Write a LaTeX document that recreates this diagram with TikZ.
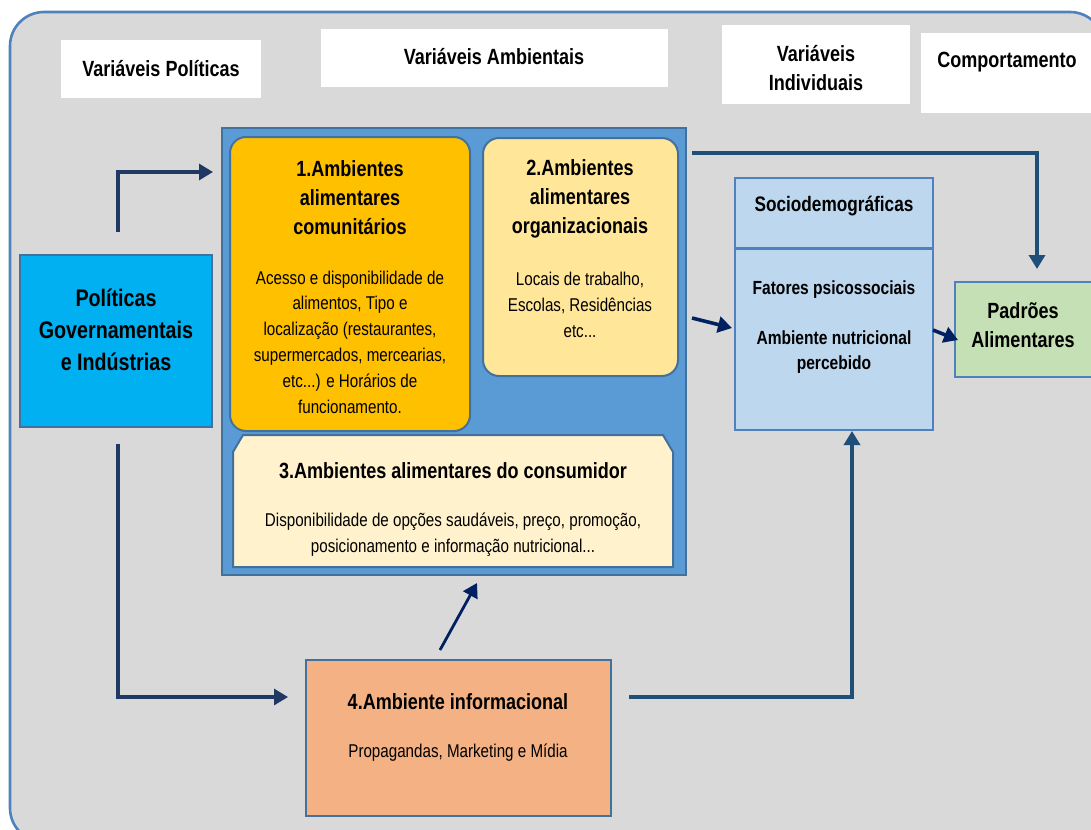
\documentclass[tikz,border=0pt]{standalone}
\usepackage{fontspec}
\setmainfont[FakeStretch=0.82]{Liberation Sans}
\usetikzlibrary{arrows.meta,fit}

\definecolor{bgray}{HTML}{D9D9D9}
\definecolor{frameblue}{HTML}{4F81BD}
\definecolor{edgeblue}{HTML}{41719C}
\definecolor{polblue}{HTML}{00B0F0}
\definecolor{envblue}{HTML}{5B9BD5}
\definecolor{comorange}{HTML}{FFC000}
\definecolor{orgyellow}{HTML}{FFE699}
\definecolor{conscream}{HTML}{FFF2CC}
\definecolor{indblue}{HTML}{BDD7EE}
\definecolor{patgreen}{HTML}{C5E0B4}
\definecolor{infsalmon}{HTML}{F4B183}
\definecolor{navyA}{HTML}{1F3864}
\definecolor{navyB}{HTML}{002060}
\definecolor{steelA}{HTML}{1F4E79}

\tikzset{
  hdrbox/.style={fill=white, inner sep=0pt, outer sep=0pt},
  panel/.style={draw=edgeblue, line width=1pt, inner sep=0pt, outer sep=0pt},
  ttl/.style={font=\fontsize{11}{14.5}\selectfont\bfseries, align=center, inner sep=0pt},
  subttl/.style={font=\fontsize{9.5}{12.9}\selectfont\bfseries, align=center, inner sep=0pt},
  bodytxt/.style={font=\fontsize{9.25}{12.9}\selectfont, align=center, inner sep=0pt},
  link/.style={line width=1.6pt, -{Triangle[length=7pt,width=8pt]}},
}

\begin{document}
\begin{tikzpicture}[x=0.5pt,y=-0.5pt]
\useasboundingbox (0,0) rectangle (1091,829);
\fill[white] (0,0) rectangle (1091,829);

% rounded grey frame, running past the right and bottom edges
\begin{scope}
  \clip (0,0) rectangle (1091,829);
  \draw[fill=bgray, draw=frameblue, line width=1.3pt, rounded corners=17pt]
    (10,12) rectangle (1104,842);
\end{scope}

% column headers
\node[hdrbox, fit={(61,40)(261,98)}] (hpol) {};
\node[ttl] (tpol) at (hpol.center) {Variáveis Políticas};
\node[hdrbox, fit={(321,29)(668,87)}] (hamb) {};
\node[ttl] (tamb) at (494,57) {Variáveis Ambientais};
\node[hdrbox, fit={(722,25)(910,104)}] (hind) {};
\node[ttl] (tind) at (816,68) {Variáveis\\Individuais};
\node[hdrbox, fit={(921,33)(1095,113)}] (hcom) {};
\node[ttl] (tcom) at (1007,62) {Comportamento};

% policies
\node[panel, fill=polblue, fit={(20,255)(212,427)}] (pol) {};
\node[font=\fontsize{12}{16}\selectfont\bfseries, align=center, inner sep=0pt] (tpolbox) at (116,330)
  {Políticas\\Governamentais\\e Indústrias};

% environmental block
\node[draw=edgeblue, line width=1.3pt, fill=envblue, inner sep=0pt, outer sep=0pt,
      fit={(222,128)(686,575)}] (env) {};

\node[panel, fill=comorange, rounded corners=8pt, fit={(230,137)(470,431)}] (com) {};
\node[ttl] (tcom1) at (350,198) {1.Ambientes\\alimentares\\comunitários};
\node[bodytxt] (bcom1) at (350,342) {Acesso e disponibilidade de\\alimentos, Tipo e\\localização (restaurantes,\\supermercados, mercearias,\\etc...) e Horários de\\funcionamento.};

\node[panel, fill=orgyellow, rounded corners=8pt, fit={(483,138)(678,376)}] (org) {};
\node[ttl] (torg) at (580,199) {2.Ambientes\\alimentares\\organizacionais};
\node[bodytxt] (borg) at (580,305) {Locais de trabalho,\\Escolas, Residências\\etc...};

\draw[panel, fill=conscream] (243,435) -- (663,435) -- (673,452) -- (673,567)
  -- (233,567) -- (233,452) -- cycle;
\node[inner sep=0pt, fit={(233,435)(673,567)}] (cons) {};
\node[ttl] (tcons) at (453,471) {3.Ambientes alimentares do consumidor};
\node[bodytxt] (bcons) at (453,535) {Disponibilidade de opções saudáveis, preço, promoção,\\posicionamento e informação nutricional...};

% informational environment
\node[panel, fill=infsalmon, fit={(306,660)(611,816)}] (inf) {};
\node[ttl] (tinf) at (458,702) {4.Ambiente informacional};
\node[bodytxt] (binf) at (458,753) {Propagandas, Marketing e Mídia};

% individual variables
\node[panel, draw=frameblue, fill=indblue, fit={(735,178)(933,248)}] (soc) {};
\node[ttl, font=\fontsize{10.5}{14}\selectfont\bfseries] (tsoc) at (834,206) {Sociodemográficas};
\node[panel, draw=frameblue, fill=indblue, fit={(735,249)(933,430)}] (psy) {};
\node[subttl] (tpsy) at (834,290) {Fatores psicossociais};
\node[subttl] (tper) at (834,352) {Ambiente nutricional\\percebido};

% behaviour
\node[panel, draw=frameblue, fill=patgreen, fit={(955,282)(1093,377)}] (pat) {};
\node[ttl] (tpat) at (1023,325) {Padrões\\Alimentares};

% connector ends
\coordinate (a1s) at (118,232);
\coordinate (a1e) at (213,172);
\coordinate (a2s) at (118,444);
\coordinate (a2e) at (288,697);
\coordinate (a3s) at (440,650);
\coordinate (a3e) at (477,583);
\coordinate (a4s) at (692,153);
\coordinate (a4e) at (1037,269);
\coordinate (a5s) at (692,318);
\coordinate (a5e) at (732,328);
\coordinate (a6s) at (933,330);
\coordinate (a6e) at (958,340);
\coordinate (a7s) at (629,697);
\coordinate (a7e) at (852,431);

% connectors
\draw[link, draw=navyA] (a1s) |- (a1e);
\draw[link, draw=navyA] (a2s) |- (a2e);
\draw[link, draw=navyB, line width=1.4pt] (a3s) -- (a3e);
\draw[link, draw=steelA, line width=1.8pt] (a4s) -| (a4e);
\draw[link, draw=navyB, line width=1.8pt] (a5s) -- (a5e);
\draw[link, draw=navyB, line width=1.8pt] (a6s) -- (a6e);
\draw[link, draw=steelA, line width=1.8pt] (a7s) -| (a7e);
\end{tikzpicture}
\end{document}
